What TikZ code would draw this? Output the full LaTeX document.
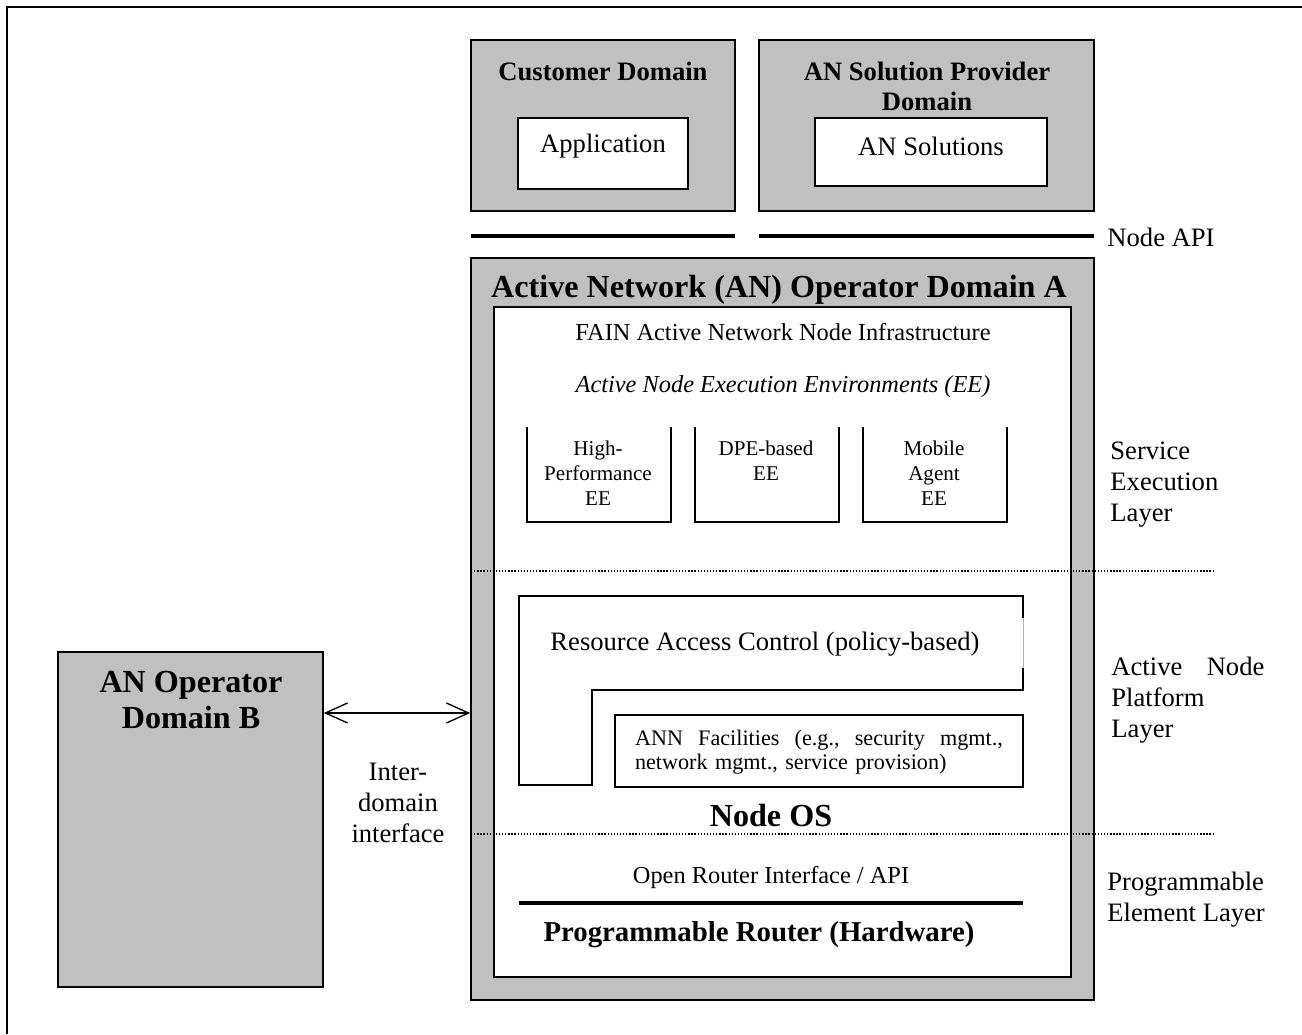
\documentclass[tikz,border=0pt]{standalone}
\usepackage{fontspec}
\setmainfont{Liberation Serif}
\usetikzlibrary{arrows.meta, fit}
\definecolor{boxgray}{HTML}{C0C0C0}

\begin{document}
\begin{tikzpicture}[x=0.4512pt, y=-0.4512pt,
    domainbox/.style={draw, fill=boxgray, line width=0.7pt, inner sep=0pt},
    whitebox/.style={draw, fill=white, line width=0.7pt, inner sep=0pt},
    boxline/.style={line width=0.7pt},
    apiline/.style={line width=1.6pt},
    layerline/.style={line width=0.6pt, dash pattern=on 0.6pt off 0.8pt},
    titletxt/.style={inner sep=0pt, font=\fontsize{14.5}{16.5}\selectfont\bfseries},
    routertxt/.style={inner sep=0pt, font=\fontsize{13}{15}\selectfont\bfseries},
    headtxt/.style={inner sep=0pt, font=\fontsize{12}{13.6}\selectfont\bfseries},
    txt/.style={inner sep=0pt, font=\fontsize{12}{14}\selectfont},
    smalltxt/.style={inner sep=0pt, font=\fontsize{11}{13}\selectfont},
    factxt/.style={inner sep=0pt, font=\fontsize{10}{10.9}\selectfont},
    eetxt/.style={inner sep=0pt, align=center, font=\fontsize{9.5}{11.3}\selectfont}]

    \useasboundingbox (0,0) rectangle (1302,1034);
    % page frame (only top and left edge are on the page)
    \draw[line width=0.9pt] (7,1034) -- (7,7) -- (1302,7);

    % customer and solution provider domains
    \node[domainbox, fit={(471,40) (735,211)}] (cust) {};
    \node[whitebox, fit={(518,118) (688,189)}] (app) {};
    \node[headtxt] (custtitle) at (603,71) {Customer Domain};
    \node[txt] (apptxt) at (603,146) {Application};

    \node[domainbox, fit={(759,40) (1094,211)}] (prov) {};
    \node[whitebox, fit={(815,118) (1047,186)}] (sol) {};
    \node[headtxt, align=center] (provtitle) at (927,86) {AN Solution Provider\\Domain};
    \node[txt] (soltxt) at (931,146) {AN Solutions};

    % node API
    \draw[apiline] (471,236) -- (735,236);
    \draw[apiline] (759,236) -- (1094,236);
    \node[txt, anchor=west] (api) at (1107,237) {Node API};

    % operator domain A
    \node[domainbox, fit={(471,258) (1094,1000)}] (domA) {};
    \node[whitebox, fit={(494,307) (1071,977)}] (infra) {};
    \node[titletxt] (domAtitle) at (779,290) {Active Network (AN) Operator Domain A};
    \node[smalltxt] (fain) at (783,332) {FAIN Active Network Node Infrastructure};
    \node[smalltxt, font=\fontsize{11}{13}\selectfont\itshape] (eetitle) at (783,387)
        {Active Node Execution Environments (EE)};

    % execution environments, open at the top
    \foreach \x/\name/\txt in {527/hp/{High-\\Performance\\EE},
                               695/dpe/{DPE-based\\EE},
                               863/mob/{Mobile\\Agent\\EE}} {
        \draw[boxline] (\x,427) -- (\x,522) -- (\x+144,522) -- (\x+144,427);
        \node[eetxt, anchor=north] (\name) at (\x+71,440) {\txt};
    }

    % resource access control (right edge mostly faded)
    \draw[boxline] (1023,618) -- (1023,596) -- (519,596) -- (519,785) -- (592,785)
        -- (592,690) -- (1023,690) -- (1023,668);
    \draw[line width=0.3pt, gray!60] (1023,618) -- (1023,668);
    \node[txt] (rac) at (765,644) {Resource Access Control (policy-based)};

    \node[whitebox, fit={(615,715) (1023,787)}] (fac) {};
    \node[factxt, text width=166pt, align=left] (factxt) at (819,752)
        {ANN\hfill Facilities\hfill (e.g.,\hfill security\hfill mgmt.,\\network mgmt., service provision)};

    \node[titletxt] (nodeos) at (771,815) {Node OS};
    \node[smalltxt] (ori) at (771,877) {Open Router Interface / API};
    \draw[apiline] (519,903) -- (1023,903);
    \node[routertxt] (router) at (759,935) {Programmable Router (Hardware)};

    % layer separators
    \draw[layerline] (471,571) -- (1213,571);
    \draw[layerline] (471,834) -- (1213,834);

    % layer names
    \node[txt, anchor=west, align=left] (sel) at (1110,485) {Service\\Execution\\Layer};
    \node[txt, anchor=west, align=left, text width=69pt] (anpl) at (1111,700)
        {Active\hfill Node\\Platform\\Layer};
    \node[txt, anchor=west, align=left] (pel) at (1107,900) {Programmable\\Element Layer};

    % operator domain B and the inter-domain interface
    \node[domainbox, fit={(58,652) (323,987)}] (domB) {};
    \node[titletxt, align=center] (domBtitle) at (191,700) {AN Operator\\Domain B};

    \coordinate (ifc) at (0,713);
    \draw[line width=0.6pt, {Straight Barb[length=10pt, width=9pt]}-{Straight Barb[length=10pt, width=9pt]}]
        (domB.east |- ifc) -- (domA.west |- ifc);
    \node[txt, align=center] (ifctxt) at (398,803) {Inter-\\domain\\interface};

\end{tikzpicture}
\end{document}
